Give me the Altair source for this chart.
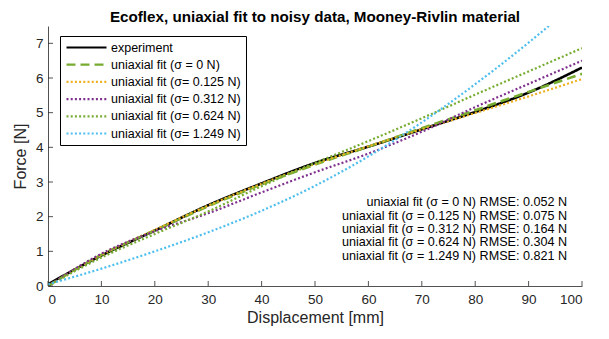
import altair as alt
import pandas as pd

# ---- data ----
displacement = [0, 10, 20, 30, 40, 50, 60, 70, 80, 90, 100]
experiment = [0.05, 0.88, 1.60, 2.33, 2.96, 3.55, 4.02, 4.52, 5.02, 5.58, 6.30]
fit_s0 = [0.00, 0.90, 1.60, 2.30, 2.93, 3.50, 4.02, 4.55, 5.07, 5.60, 6.12]
fit_s0125 = [0.00, 0.90, 1.62, 2.32, 2.95, 3.52, 4.03, 4.52, 4.99, 5.47, 5.97]
fit_s0312 = [0.00, 0.93, 1.58, 2.10, 2.70, 3.28, 3.82, 4.45, 5.16, 5.83, 6.50]
fit_s0624 = [0.00, 0.82, 1.50, 2.15, 2.88, 3.55, 4.18, 4.84, 5.52, 6.19, 6.86]
fit_s1249 = [0.05, 0.50, 1.00, 1.55, 2.17, 2.89, 3.74, 4.72, 5.82, 7.02, 8.32]

series_names = [
    "experiment",
    "uniaxial fit (σ = 0 N)",
    "uniaxial fit (σ= 0.125 N)",
    "uniaxial fit (σ= 0.312 N)",
    "uniaxial fit (σ= 0.624 N)",
    "uniaxial fit (σ= 1.249 N)",
]
series_values = [experiment, fit_s0, fit_s0125, fit_s0312, fit_s0624, fit_s1249]

rmse_lines = [
    "uniaxial fit (σ = 0 N) RMSE: 0.052 N",
    "uniaxial fit (σ = 0.125 N) RMSE: 0.075 N",
    "uniaxial fit (σ = 0.312 N) RMSE: 0.164 N",
    "uniaxial fit (σ = 0.624 N) RMSE: 0.304 N",
    "uniaxial fit (σ = 1.249 N) RMSE: 0.821 N",
]

x_ticks = [0, 10, 20, 30, 40, 50, 60, 70, 80, 90, 100]
y_ticks = [0, 1, 2, 3, 4, 5, 6, 7]

# ---- styles ----
colors = ["#000000", "#77AC30", "#EDB120", "#7E2F8E", "#77AC30", "#4DBEEE"]
dashes = [[1, 0], [9, 5], [2, 2.2], [2, 2.2], [2, 2.2], [2, 2.2]]
widths = [2.6, 2.6, 2.2, 2.2, 2.2, 2.2]

rows = []
for name, vals in zip(series_names, series_values):
    for d, f in zip(displacement, vals):
        rows.append({"series": name, "d": d, "f": f})
df = pd.DataFrame(rows)

W, H = 534, 260
FONT = "Liberation Sans"
AX = "#262626"

legend = alt.Legend(
    title=None,
    orient="none",
    legendX=12,
    legendY=10,
    strokeColor="#000000",
    fillColor="#ffffff",
    padding=5,
    symbolSize=1600,
    symbolStrokeWidth=2.2,
    symbolType="stroke",
    labelFontSize=12.5,
    labelFont=FONT,
    labelColor="#000000",
    labelOffset=3,
    rowPadding=4.2,
    clipHeight=13,
    cornerRadius=0,
)

x_axis = alt.Axis(values=x_ticks, title="Displacement [mm]", format="d")
y_axis = alt.Axis(values=y_ticks, title="Force [N]", format="d", labelOverlap=False)
x_scale = alt.Scale(domain=[0, 100], nice=False)
y_scale = alt.Scale(domain=[0, 7.5], nice=False)

x_enc = alt.X("d:Q", scale=x_scale, axis=x_axis)
y_enc = alt.Y("f:Q", scale=y_scale, axis=y_axis)
color_enc = alt.Color("series:N", scale=alt.Scale(domain=series_names, range=colors), legend=legend)
dash_enc = alt.StrokeDash("series:N", scale=alt.Scale(domain=series_names, range=dashes), legend=legend)

layers = []
for name, w in zip(series_names, widths):
    layers.append(
        alt.Chart(df)
        .transform_filter(alt.datum.series == name)
        .mark_line(clip=True, interpolate="monotone", strokeWidth=w)
        .encode(x=x_enc, y=y_enc, color=color_enc, strokeDash=dash_enc)
    )

# inward tick marks (MATLAB style)
xt = (
    alt.Chart(pd.DataFrame({"d": x_ticks}))
    .mark_rule(color=AX, strokeWidth=0.8)
    .encode(x=x_enc, y=alt.value(H), y2=alt.value(H - 5))
)
yt = (
    alt.Chart(pd.DataFrame({"f": y_ticks}))
    .mark_rule(color=AX, strokeWidth=0.8)
    .encode(y=y_enc, x=alt.value(0), x2=alt.value(5))
)

annot = (
    alt.Chart(pd.DataFrame({"k": [0]}))
    .mark_text(text=rmse_lines, align="right", baseline="middle", lineHeight=13.3,
               fontSize=12.6, font=FONT, color="#000000")
    .encode(x=alt.XDatum(97.2, scale=x_scale, axis=x_axis),
            y=alt.YDatum(2.41, scale=y_scale, axis=y_axis))
)

chart = (
    alt.layer(*layers, xt, yt, annot)
    .properties(
        width=W,
        height=H,
        title=alt.TitleParams("Ecoflex, uniaxial fit to noisy data, Mooney-Rivlin material",
                              fontSize=15.2, fontWeight="bold", font=FONT, color="#000000",
                              anchor="middle", offset=1),
        autosize=alt.AutoSizeParams(type="none"),
        padding={"left": 40, "top": 18, "right": 19, "bottom": 45},
    )
    .configure_view(stroke=None)
    .configure_axis(
        domainColor=AX, domainWidth=0.8, ticks=False, labelPadding=5,
        labelFont=FONT, labelFontSize=13.5, labelColor=AX,
        titleFont=FONT, titleFontSize=16, titleColor=AX, titleFontWeight="normal",
        grid=False,
    )
    .configure_axisX(titlePadding=4, labelPadding=6)
    .configure_axisY(titlePadding=7)
)

chart.save("out.html", embed_options={"renderer": "svg", "actions": False})
